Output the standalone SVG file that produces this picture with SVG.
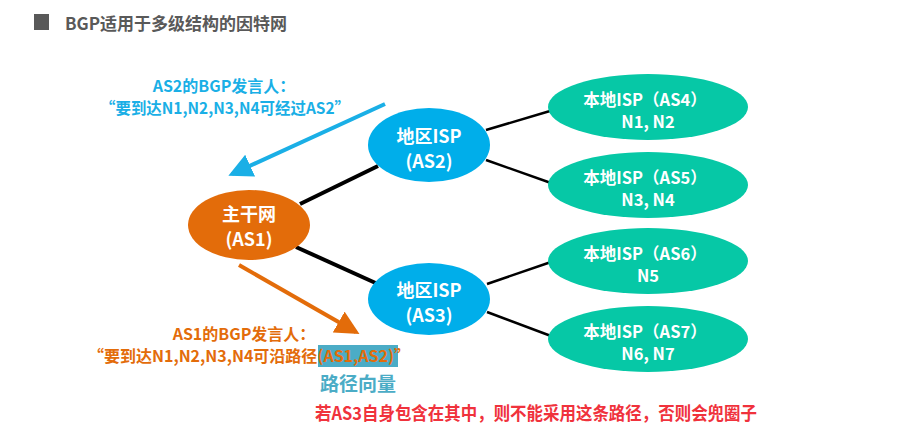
<svg xmlns="http://www.w3.org/2000/svg" width="920" height="435" viewBox="0 0 920 435">
<defs>
<style>
text{font-family:"Noto Sans CJK SC","Noto Sans",sans-serif;font-weight:bold;}
.nt{fill:#fff;text-anchor:middle;font-size:18px;}
.gt{fill:#fff;text-anchor:middle;font-size:16.5px;}
.blue{fill:#00AEEA;}
.green{fill:#06C8A6;}
.link{stroke:#000;fill:none;}
</style>
<marker id="ab" markerWidth="6" markerHeight="6" refX="5" refY="3" orient="auto" markerUnits="strokeWidth"><path d="M0,0 L6,3 L0,6 z" fill="#1AAFE6"/></marker>
<marker id="ao" markerWidth="6" markerHeight="6" refX="5" refY="3" orient="auto" markerUnits="strokeWidth"><path d="M0,0 L6,3 L0,6 z" fill="#E36C0A"/></marker>
</defs>
<rect width="920" height="435" fill="#fff"/>
<g id="title">
<rect x="34" y="14" width="15" height="16" fill="#595959"/>
<text x="65" y="30" font-size="17" fill="#595959">BGP适用于多级结构的因特网</text>
</g>
<g id="connectors">
<line class="link" x1="300" y1="204" x2="378" y2="166" stroke-width="4"/>
<line class="link" x1="296" y1="247" x2="380" y2="285" stroke-width="4"/>
<line class="link" x1="486" y1="130" x2="550" y2="111" stroke-width="2.5"/>
<line class="link" x1="486" y1="160" x2="551" y2="183" stroke-width="2.5"/>
<line class="link" x1="487" y1="284" x2="551" y2="262" stroke-width="2.5"/>
<line class="link" x1="487" y1="312" x2="551" y2="336" stroke-width="2.5"/>
<line x1="385" y1="104" x2="232" y2="174" stroke="#1AAFE6" stroke-width="4" marker-end="url(#ab)"/>
<line x1="239" y1="265" x2="356" y2="332" stroke="#E36C0A" stroke-width="4" marker-end="url(#ao)"/>
</g>
<g id="as1">
<ellipse cx="249" cy="225" rx="61" ry="35" fill="#E36C0A"/>
<text class="nt" x="249" y="221">主干网</text>
<text class="nt" x="249" y="246">(AS1)</text>
</g>
<g id="as2">
<ellipse class="blue" cx="429" cy="145" rx="61" ry="37"/>
<text class="nt" x="429" y="143">地区ISP</text>
<text class="nt" x="429" y="168">(AS2)</text>
</g>
<g id="as3">
<ellipse class="blue" cx="429" cy="299" rx="61" ry="36"/>
<text class="nt" x="429" y="297">地区ISP</text>
<text class="nt" x="429" y="322">(AS3)</text>
</g>
<g id="as4">
<ellipse class="green" cx="648" cy="107" rx="100" ry="33"/>
<text class="gt" x="645" y="106">本地ISP（AS4）</text>
<text class="gt" x="648" y="128">N1, N2</text>
</g>
<g id="as5">
<ellipse class="green" cx="648" cy="185" rx="100" ry="33"/>
<text class="gt" x="645" y="184">本地ISP（AS5）</text>
<text class="gt" x="648" y="206">N3, N4</text>
</g>
<g id="as6">
<ellipse class="green" cx="648" cy="261" rx="100" ry="33"/>
<text class="gt" x="645" y="260">本地ISP（AS6）</text>
<text class="gt" x="648" y="282">N5</text>
</g>
<g id="as7">
<ellipse class="green" cx="648" cy="339" rx="100" ry="33"/>
<text class="gt" x="645" y="338">本地ISP（AS7）</text>
<text class="gt" x="648" y="360">N6, N7</text>
</g>
<g id="label-as2" fill="#1AAFE6">
<text x="224" y="92" font-size="16" text-anchor="middle">AS2的BGP发言人：</text>
<text x="100" y="114" font-size="16" textLength="250" lengthAdjust="spacingAndGlyphs">“要到达N1,N2,N3,N4可经过AS2”</text>
</g>
<g id="label-as1">
<rect x="318" y="345" width="80" height="22" fill="#4BACC6"/>
<text x="244" y="340" font-size="16" fill="#E36C0A" text-anchor="middle">AS1的BGP发言人：</text>
<text x="88" y="362" font-size="16" fill="#E36C0A" textLength="322" lengthAdjust="spacingAndGlyphs">“要到达N1,N2,N3,N4可沿路径(AS1,AS2)”</text>
</g>
<g id="notes">
<text x="320" y="391" font-size="19" fill="#4BACC6" stroke="#fff" stroke-width="3" paint-order="stroke">路径向量</text>
<text x="315" y="420" font-size="18" fill="#F0323C" stroke="#fff" stroke-width="3" paint-order="stroke" textLength="442" lengthAdjust="spacingAndGlyphs">若AS3自身包含在其中，则不能采用这条路径，否则会兜圈子</text>
</g>
</svg>
